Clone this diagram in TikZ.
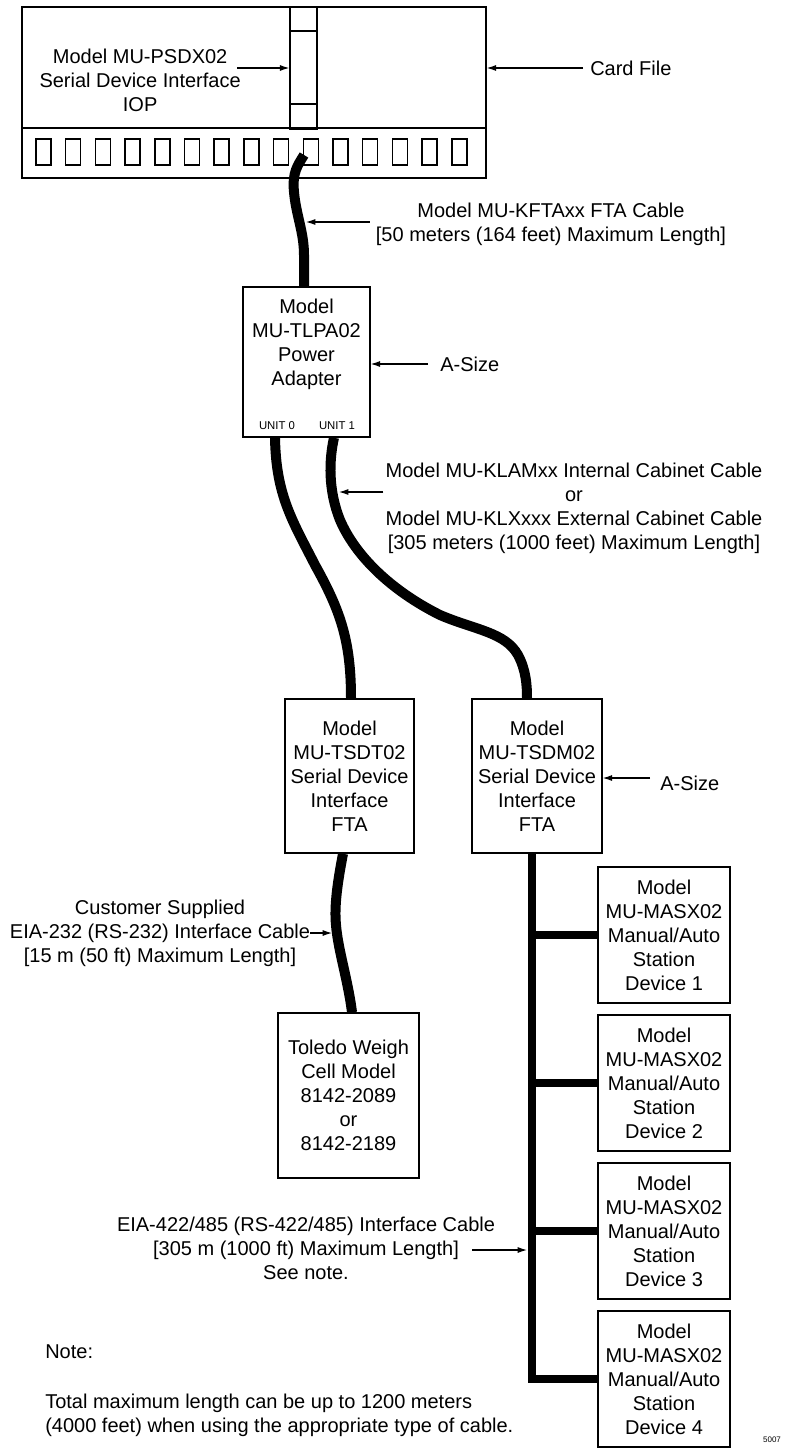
\documentclass[tikz,border=0pt]{standalone}
\usepackage{fontspec}
\setmainfont{Liberation Sans}
\usetikzlibrary{arrows.meta,calc}

\begin{document}
\begin{tikzpicture}[x=0.75pt,y=-0.75pt,>={Latex[length=7pt,width=4.5pt]},
  font=\fontsize{15}{18}\selectfont,
  box/.style={draw,line width=1.1pt,inner sep=0pt},
  txt/.style={align=center,inner sep=0pt},
  cable/.style={line width=7.5pt},
  bus/.style={line width=6pt},
  lead/.style={->,line width=0.8pt},
  small/.style={font=\fontsize{8.5}{10}\selectfont,inner sep=0pt}]

  \useasboundingbox (0,0) rectangle (801,1448);

  % card file with the IOP card
  \node[box,minimum width=348pt,minimum height=128.25pt] (cardfile) at (254,92.5) {};
  \draw[line width=1.1pt] (22,128) -- (486,128);
  \foreach \i in {0,...,14}
    \draw[line width=1.1pt] (36+\i*29.7,139) rectangle +(15,26);
  \node[box,minimum width=20.25pt,minimum height=91.5pt] (iop) at (303.5,68) {};
  \draw[line width=1.1pt] (290,31) -- (317,31);
  \draw[line width=1.1pt] (290,104) -- (317,104);
  \coordinate (port) at (304,155);

  \node[txt,anchor=east] (ioptxt) at (241,80) {Model MU-PSDX02\\Serial Device Interface\\IOP};
  \draw[lead] ($(iop.west)+(-52,0)$) -- (iop.west);
  \node[txt,anchor=west] (cardtxt) at (590,68) {Card File};
  \draw[lead] ($(cardtxt.west)+(-7,0)$) -- (cardtxt.west -| cardfile.east);

  % power adapter
  \node[box,minimum width=95.25pt,minimum height=112.5pt] (tlpa) at (306.5,362) {};
  \node[txt] (tlpatxt) at (306.5,344.5) {Model\\MU-TLPA02\\Power\\Adapter};
  \node[small] (unit0) at (277,426) {UNIT 0};
  \node[small] (unit1) at (337,426) {UNIT 1};
  \node[txt,anchor=west] (asize1) at (440,364) {A-Size};
  \draw[lead] ($(asize1.west)+(-12,0)$) -- (asize1.west -| tlpa.east);

  \draw[cable] (port) .. controls (298,165) and (292,172) .. (294,192)
    .. controls (296,215) and (304,232) .. (304,255) -- (tlpa.north -| 304,0);
  \node[txt] (kfta) at (551,224.5) {Model MU-KFTAxx FTA Cable\\{}[50 meters (164 feet) Maximum Length]};
  \coordinate (kftapt) at (306,222);
  \draw[lead] ($(kfta.west)+(-6,-2.5)$) -- (kftapt);

  % FTAs
  \node[box,txt,minimum width=96.75pt,minimum height=115.5pt] (tsdt) at (349.5,776) {Model\\MU-TSDT02\\Serial Device\\Interface\\FTA};
  \node[box,txt,minimum width=97.5pt,minimum height=115.5pt] (tsdm) at (537,776) {Model\\MU-TSDM02\\Serial Device\\Interface\\FTA};
  \node[txt,anchor=west] (asize2) at (660,783) {A-Size};
  \draw[lead] ($(asize2.west)+(-10,-5)$) -- (tsdm.east |- 0,778);

  \draw[cable] (tlpa.south -| 275,0) .. controls (276,495) and (292,520) .. (315,565)
    .. controls (340,610) and (351,640) .. (tsdt.north -| 351,0);
  \draw[cable] (tlpa.south -| 334,0) .. controls (329,460) and (328,490) .. (340,520)
    .. controls (355,555) and (390,590) .. (440,615)
    .. controls (475,630) and (505,632) .. (518,655)
    .. controls (526,670) and (527,685) .. (tsdm.north -| 527,0);
  \node[txt] (klam) at (574,508) {Model MU-KLAMxx Internal Cabinet Cable\\or\\Model MU-KLXxxx External Cabinet Cable\\{}[305 meters (1000 feet) Maximum Length]};
  \coordinate (klampt) at (339,492);
  \draw[lead] ($(klam.west)+(-2,-16)$) -- (klampt);

  % weigh cell
  \node[box,txt,minimum width=105.75pt,minimum height=123.75pt] (toledo) at (348.5,1095.5) {Toledo Weigh\\Cell Model\\8142-2089\\or\\8142-2189};
  \draw[cable] (tsdt.south -| 343,0) .. controls (338,880) and (334,905) .. (336,925)
    .. controls (338,950) and (348,980) .. (toledo.north -| 352,0);
  \node[txt] (custom) at (160,933) {Customer Supplied\\EIA-232 (RS-232) Interface Cable\\{}[15 m (50 ft) Maximum Length]};
  \coordinate (custpt) at (332,933);
  \draw[lead] (custom.east) -- (custpt);

  % manual/auto stations
  \foreach \n in {1,...,4}
    \node[box,txt,minimum width=99pt,minimum height=102pt] (masx\n) at (664,787+148*\n) {Model\\MU-MASX02\\Manual/Auto\\Station\\Device \n};
  \coordinate (bustop) at (tsdm.south -| 532,0);
  \draw[bus] (bustop) -- (bustop |- masx4.west) -- (masx4.west);
  \foreach \n in {1,2,3}
    \draw[bus] (bustop |- masx\n.west) -- (masx\n.west);

  \node[txt] (eia) at (306,1248) {EIA-422/485 (RS-422/485) Interface Cable\\{}[305 m (1000 ft) Maximum Length]\\See note.};
  \coordinate (eiapt) at (527,1250);
  \draw[lead] ($(eiapt)+(-55,0)$) -- (eiapt);

  % note
  \node[anchor=west,inner sep=0pt] (notehd) at (45,1352) {Note:};
  \node[anchor=west,align=left,inner sep=0pt] (notetxt) at (45,1415.5) {Total maximum length can be up to 1200 meters\\(4000 feet) when using the appropriate type of cable.};
  \node[font=\fontsize{6}{7}\selectfont,inner sep=0pt] (fignum) at (772,1440) {5007};

\end{tikzpicture}
\end{document}
